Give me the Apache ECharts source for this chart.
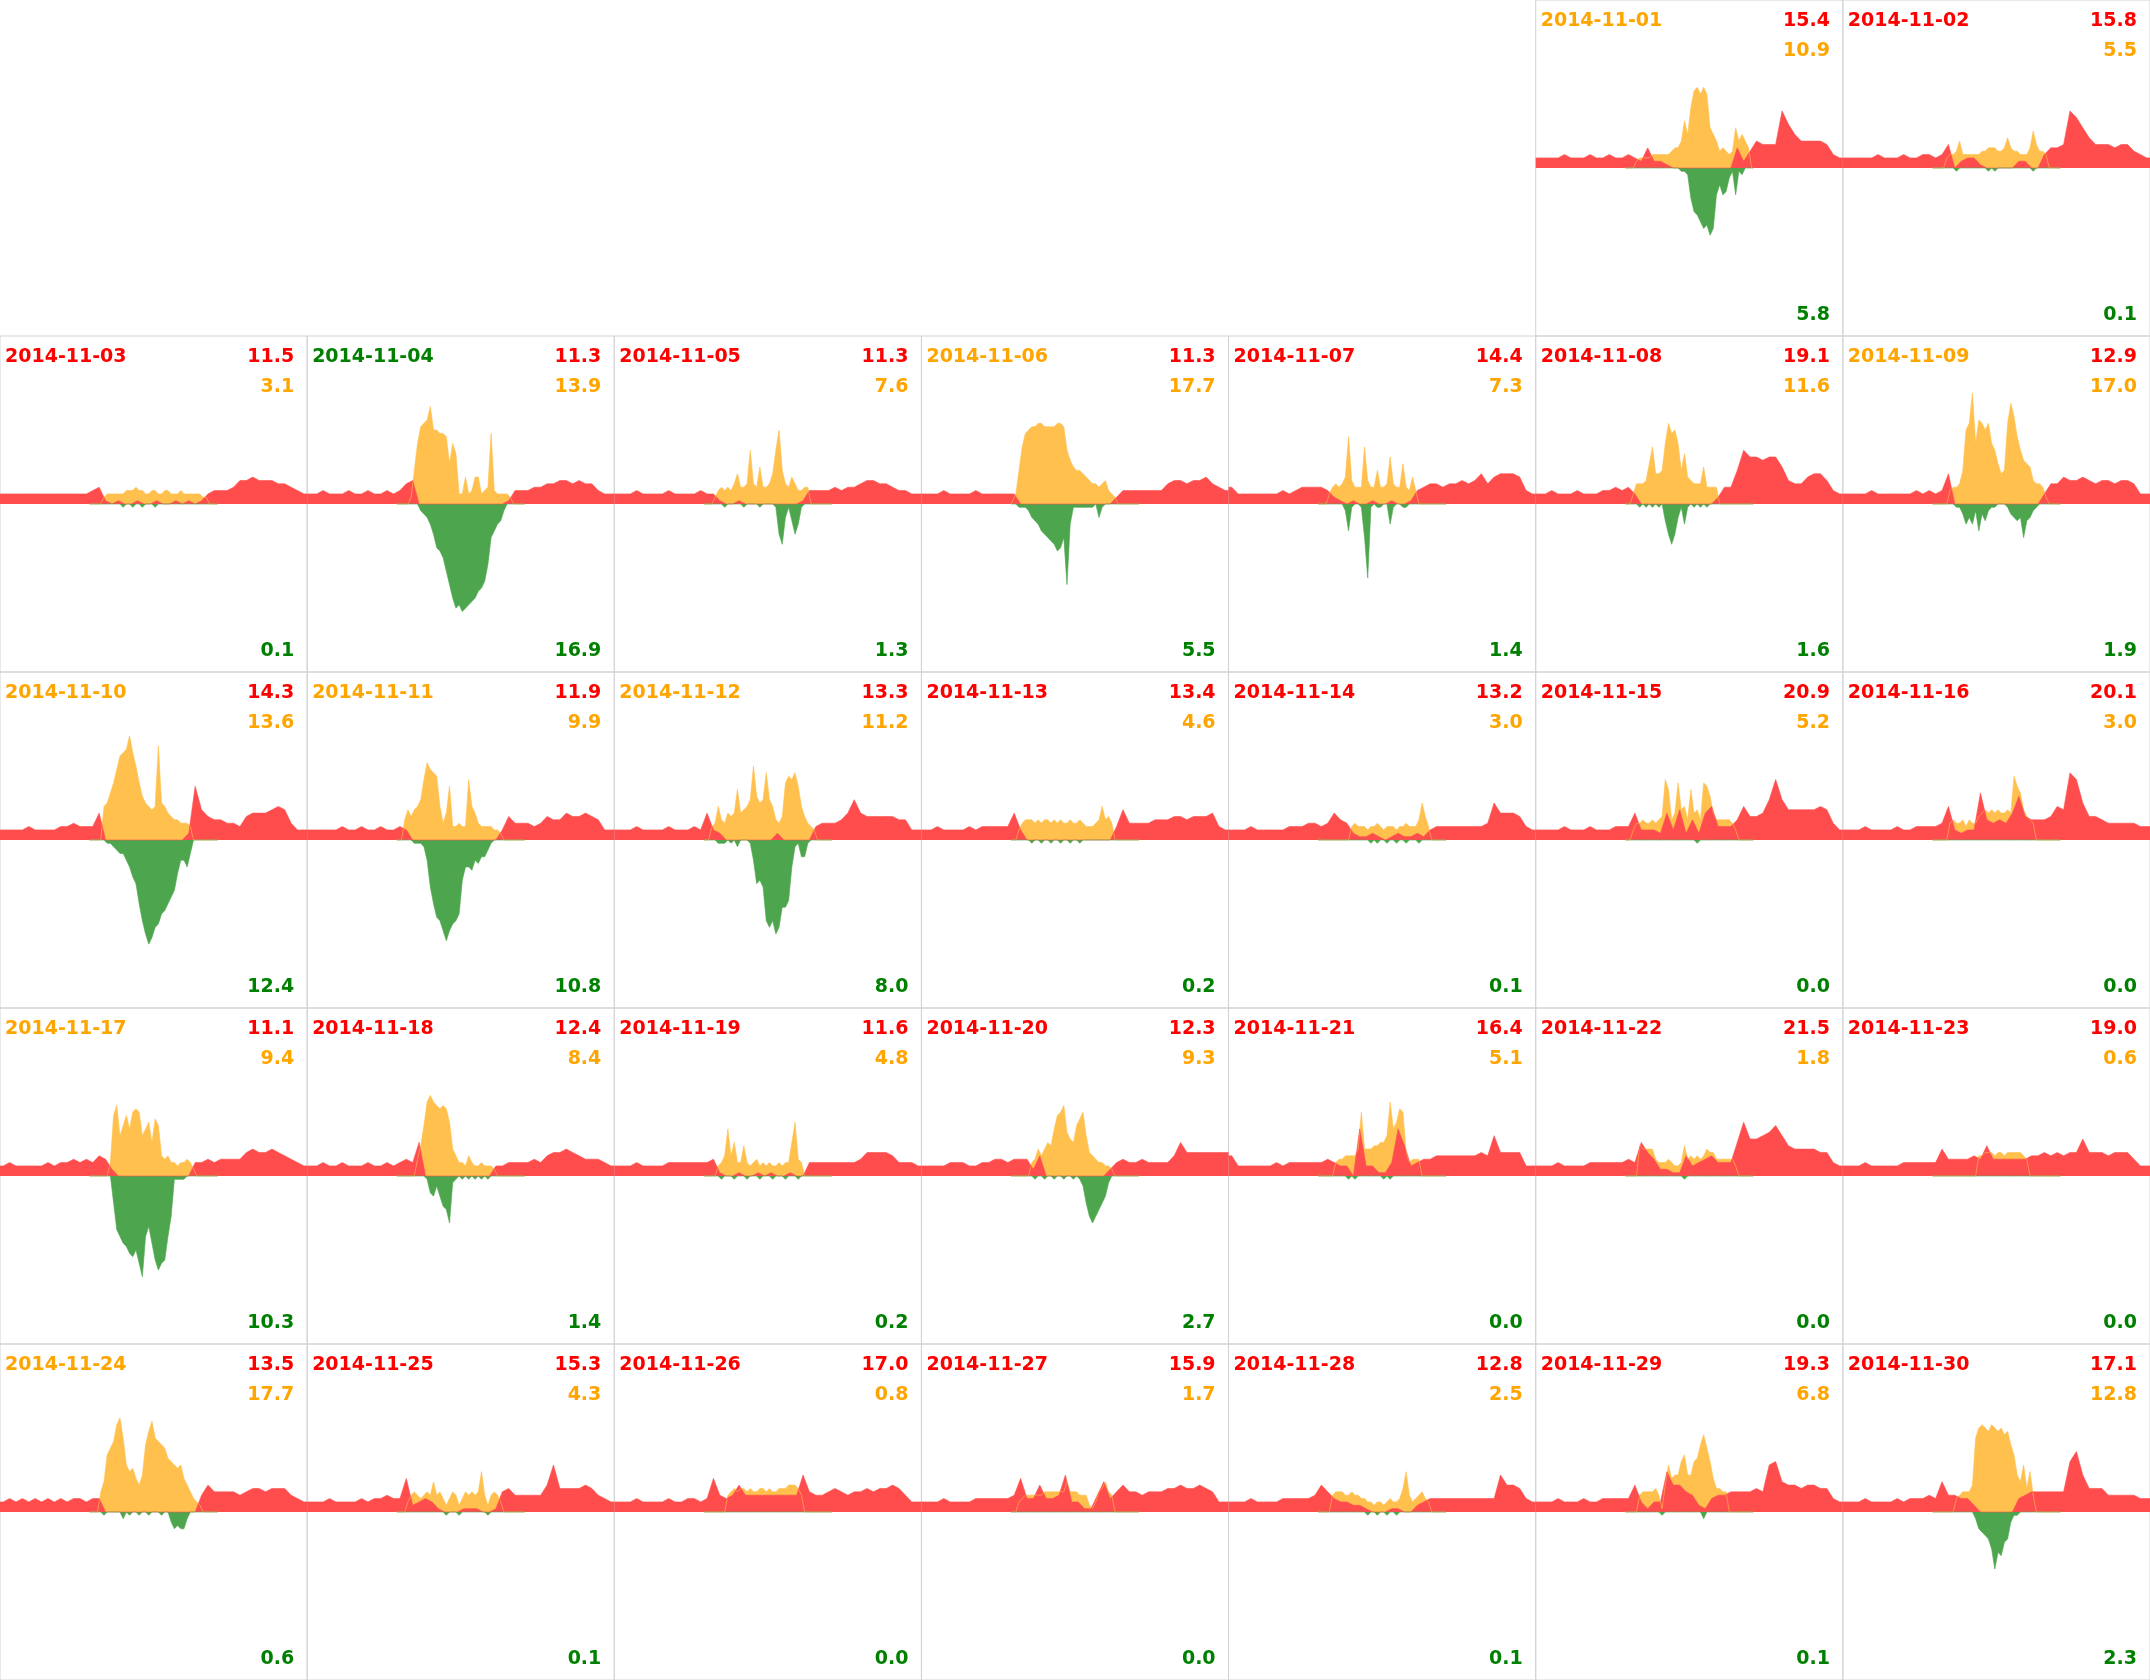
<!DOCTYPE html>
<html>
<head>
<meta charset="utf-8">
<script src="https://cdn.jsdelivr.net/npm/echarts/dist/echarts.min.js"></script>
<style>
html,body{margin:0;padding:0;background:#ffffff;}
#chart{width:2150px;height:1680px;}
</style>
</head>
<body>
<div id="chart"></div>
<script>
// ---------------- DATA (units: 0.1 kW) ----------------
const year = 2014, month = 11, firstWeekdayCol = 5; // Nov 1 2014 = Saturday (Mon-first week)
const dayNumbers = [1,2,3,4,5,6,7,8,9,10,11,12,13,14,15,16,17,18,19,20,21,22,23,24,25,26,27,28,29,30];

// daily totals (kWh) shown in each cell
const consumptionTotal = [15.4,15.8,11.5,11.3,11.3,11.3,14.4,19.1,12.9,14.3,11.9,13.3,13.4,13.2,20.9,20.1,11.1,12.4,11.6,12.3,16.4,21.5,19.0,13.5,15.3,17.0,15.9,12.8,19.3,17.1];
const productionTotal  = [10.9,5.5,3.1,13.9,7.6,17.7,7.3,11.6,17.0,13.6,9.9,11.2,4.6,3.0,5.2,3.0,9.4,8.4,4.8,9.3,5.1,1.8,0.6,17.7,4.3,0.8,1.7,2.5,6.8,12.8];
const exportTotal      = [5.8,0.1,0.1,16.9,1.3,5.5,1.4,1.6,1.9,12.4,10.8,8.0,0.2,0.1,0.0,0.0,10.3,1.4,0.2,2.7,0.0,0.0,0.0,0.6,0.1,0.0,0.0,0.1,0.1,2.3];
// which colour the date label takes: c = consumption, p = production, e = export
const dateLabelKind = ['p','c','c','e','c','p','c','c','p','p','p','p','c','c','c','c','p','c','c','c','c','c','c','p','c','c','c','c','c','c'];

// grid import (red), 48 half-hour slots 00:00-24:00
const gridImport = [
[3,3,3,3,4,3,3,3,4,3,3,4,3,3,4,3, 2,6,2,2,1,0,0,0,0,0,0,0,0,0,0,6, 2,5,8,7,7,7,17,13,10,8,8,8,8,7,4,3],
[3,3,3,3,3,4,3,3,3,4,3,3,4,4,3,4, 7,0,2,3,3,1,0,0,0,0,0,2,2,0,0,4, 6,6,7,17,15,12,9,7,7,7,6,7,7,5,4,3],
[3,3,3,3,3,3,3,3,3,3,3,3,3,3,4,5, 1,0,1,0,0,1,0,0,1,0,0,1,0,1,0,1, 3,4,4,4,5,7,7,8,7,7,7,6,6,5,4,3],
[3,3,4,3,3,3,4,3,3,4,3,3,4,3,4,6, 7,0,0,0,0,0,0,0,0,0,0,0,0,0,0,1, 4,4,4,5,5,6,6,7,7,6,7,6,6,4,3,3],
[3,3,3,4,3,3,3,3,4,3,3,3,3,4,3,3, 1,0,0,1,0,0,0,0,0,0,0,0,0,1,4,4, 4,4,5,4,5,5,6,7,7,6,6,5,4,4,3,3],
[3,3,3,4,3,3,3,3,4,3,3,3,3,3,3,0, 0,0,0,0,0,0,0,0,0,0,0,0,0,0,2,4, 4,4,4,4,4,4,6,7,7,6,7,7,8,6,5,4],
[5,3,3,3,3,3,3,3,4,3,4,5,5,5,5,4, 2,1,0,1,0,0,1,0,0,1,0,0,1,4,5,6, 6,5,6,6,7,6,7,9,6,8,9,9,9,8,4,3],
[3,3,4,3,3,3,4,3,3,3,4,4,5,4,5,3, 0,0,0,0,0,0,0,0,0,0,0,0,2,5,5,10, 16,14,14,13,14,14,11,7,6,6,8,9,9,7,4,3],
[3,3,3,3,4,3,3,3,3,3,3,4,3,4,3,4, 9,0,0,0,0,0,0,0,0,0,0,0,0,0,0,3, 6,6,8,7,7,8,7,6,7,7,6,7,7,6,3,3],
[3,3,3,3,4,3,3,3,3,4,4,5,4,4,4,8, 0,0,0,0,0,0,0,0,0,0,0,0,0,2,16,9, 7,6,6,5,5,4,7,8,8,8,9,10,9,5,3,3],
[3,3,3,3,3,4,3,3,4,3,3,4,3,3,4,3, 0,0,0,0,0,0,0,0,0,0,0,0,0,0,3,7, 5,5,5,4,5,7,6,6,8,7,7,8,7,6,3,3],
[3,3,3,4,3,3,3,3,4,3,3,3,4,3,8,3, 2,0,0,0,0,0,0,0,0,2,0,0,0,0,0,4, 5,5,5,6,8,12,8,7,7,7,7,7,6,6,3,3],
[3,3,4,3,3,3,3,4,3,4,4,4,4,4,8,3, 0,0,0,0,0,0,0,0,0,0,0,0,0,0,4,9, 5,5,5,5,6,6,6,7,7,6,7,7,7,8,4,3],
[3,3,3,4,3,3,3,3,3,4,4,4,5,5,4,5, 8,6,5,2,1,1,2,1,0,1,2,1,1,2,1,3, 4,4,4,4,4,4,4,4,5,11,8,8,8,7,4,3],
[3,3,3,3,4,3,3,3,4,3,3,3,4,4,4,8, 3,3,3,2,8,3,9,2,6,2,8,10,4,4,4,6, 10,7,7,8,12,18,12,9,9,9,9,9,10,9,5,3],
[3,3,3,4,3,3,3,3,4,3,3,4,4,4,4,5, 10,3,2,3,3,14,6,5,6,5,8,13,7,6,6,6, 7,10,9,20,18,11,7,7,6,5,5,5,5,5,4,4],
[3,4,3,3,3,3,3,4,3,4,4,5,4,5,4,6, 5,2,0,0,0,0,0,0,0,0,0,0,0,0,4,4, 5,4,5,5,5,5,7,8,7,7,8,7,6,5,4,3],
[3,3,4,3,3,4,3,3,3,4,3,3,4,3,4,5, 4,10,0,0,0,0,0,0,0,0,0,0,0,3,3,4, 4,4,4,5,4,6,7,7,8,7,6,5,5,5,4,3],
[3,3,3,4,3,3,3,3,4,4,4,4,4,4,4,5, 1,0,0,1,0,0,1,0,1,0,0,1,0,0,4,4, 4,4,4,4,4,4,5,7,7,7,7,6,4,4,4,3],
[3,3,3,3,4,4,4,3,3,4,4,5,5,4,5,5, 5,2,6,0,0,0,0,0,0,0,0,0,0,2,4,5, 4,4,5,4,4,4,4,6,10,7,7,7,7,7,7,7],
[6,3,3,3,3,3,3,4,3,4,4,4,4,4,4,5, 4,3,3,0,14,3,3,1,1,4,14,9,3,4,5,5, 6,6,6,6,6,6,6,7,6,12,7,7,7,7,3,3],
[3,3,3,4,3,3,3,3,4,4,4,4,4,4,5,4, 10,7,5,2,2,1,1,6,3,4,5,6,4,4,4,10, 16,11,11,12,13,15,12,9,8,8,8,8,7,7,4,3],
[3,3,3,4,3,3,3,3,3,4,4,4,4,4,4,8, 5,5,5,5,6,5,9,5,5,5,5,5,5,6,6,7, 6,7,6,7,7,11,7,7,7,6,7,7,7,5,3,3],
[3,4,3,4,3,4,3,4,3,4,3,4,4,3,4,4, 0,0,0,0,0,0,0,0,0,0,0,0,0,0,0,5, 8,6,6,6,6,5,6,7,7,6,7,7,7,5,4,3],
[3,3,3,4,3,3,3,3,4,3,4,4,5,4,4,10, 2,3,4,3,1,0,0,0,1,1,1,0,0,1,6,7, 5,5,5,5,5,8,14,7,7,7,7,8,7,5,4,3],
[3,3,3,4,3,3,3,3,4,3,3,4,4,3,4,10, 5,4,5,8,5,5,5,5,5,5,5,5,5,11,6,5, 5,6,7,6,5,6,6,7,6,7,7,8,7,5,3,3],
[3,3,3,4,3,3,3,3,4,4,4,4,4,4,5,10, 4,4,8,4,4,5,11,3,3,1,1,5,9,4,6,8, 6,6,5,6,6,6,7,7,8,7,7,8,7,6,3,3],
[3,3,3,4,3,3,3,3,4,4,4,4,4,5,8,6, 4,3,3,2,2,1,0,0,0,1,1,0,0,2,3,4, 4,4,4,4,4,4,4,4,4,4,11,8,8,7,4,3],
[3,3,3,4,3,3,3,4,3,3,4,4,4,4,4,8, 3,1,3,3,12,8,8,6,5,2,1,4,5,5,6,6, 6,6,7,6,14,15,9,8,8,7,8,8,7,7,4,3],
[3,3,3,4,3,3,3,3,4,3,4,4,4,5,4,9, 5,5,4,4,2,0,0,0,0,0,0,4,5,6,6,6, 6,6,6,15,18,11,7,7,7,5,5,5,5,5,4,4]
];

// household load incl. own solar (top of orange), 40 quarter-hour slots 07:00-17:00
const householdLoad = [
[0,0,0,2,3,3,3,3,4,4,4,4,4,4,5,6,6,8,14,10,18,23,24,22,24,22,12,10,8,5,6,5,4,5,12,8,10,8,6,0],
[0,0,0,0,3,4,4,5,8,4,4,4,4,4,4,5,5,6,6,6,5,5,6,9,6,5,5,4,4,4,6,11,7,5,5,4,0,0,0,0],
[0,0,0,0,2,3,3,3,3,3,3,4,4,4,5,4,4,3,3,4,4,3,3,4,4,3,3,3,4,3,3,3,3,3,3,2,2,0,0,0],
[0,0,0,0,2,10,18,23,24,25,29,22,22,21,21,20,12,18,15,3,3,8,3,4,8,8,3,4,5,21,4,3,3,3,3,2,0,0,0,0],
[0,0,0,2,4,5,4,5,4,6,9,5,5,6,16,6,5,11,5,5,6,9,16,22,10,6,5,8,6,4,4,5,5,0,0,0,0,0,0,0],
[0,3,10,17,21,22,23,23,24,24,23,23,23,23,24,24,23,16,13,11,10,10,9,8,7,6,6,5,6,7,4,3,2,0,0,0,0,0,0,0],
[0,0,0,3,5,6,5,6,8,20,7,5,5,5,17,7,5,5,10,5,5,6,14,6,5,5,12,5,4,8,4,0,0,0,0,0,0,0,0,0],
[0,0,3,6,6,6,7,12,17,9,9,10,18,24,21,22,18,10,15,8,7,6,6,6,11,5,5,5,5,0,0,0,0,0,0,0,0,0,0,0],
[0,0,0,0,0,4,5,5,6,10,22,24,33,18,25,24,22,24,18,16,12,9,10,24,30,26,20,16,13,12,11,7,6,6,5,2,0,0,0,0],
[0,0,0,0,10,11,14,17,21,25,26,27,31,26,22,17,13,11,10,9,10,28,11,10,8,7,6,6,5,5,5,4,0,0,0,0,0,0,0,0],
[0,0,6,9,7,9,10,12,18,23,21,20,19,10,5,8,16,4,4,5,4,4,18,10,8,5,4,4,4,4,3,3,2,0,0,0,0,0,0,0],
[0,0,4,5,10,6,5,8,7,8,15,8,9,10,12,22,13,11,12,20,12,10,6,5,7,17,19,18,20,16,10,7,5,4,3,0,0,0,0,0],
[0,0,3,5,6,6,6,5,6,5,6,6,5,6,5,6,5,5,6,5,5,6,5,4,4,4,5,6,10,6,7,5,0,0,0,0,0,0,0,0],
[0,0,0,0,0,0,0,0,0,0,4,5,4,4,4,3,4,4,5,4,3,4,4,4,3,4,4,5,4,4,4,6,11,7,4,0,0,0,0,0],
[0,0,3,5,5,6,5,5,6,5,6,7,18,15,6,8,17,9,10,6,15,8,9,6,17,16,13,8,6,6,6,6,6,5,3,0,0,0,0,0],
[0,0,0,0,0,5,6,5,5,6,4,6,5,5,7,8,9,8,9,8,9,8,8,9,8,19,16,14,9,7,6,5,0,0,0,0,0,0,0,0],
[0,0,0,0,0,0,4,18,21,12,15,18,14,19,20,19,12,14,16,10,17,15,6,5,6,4,4,3,4,4,5,4,2,0,0,0,0,0,0,0],
[0,0,0,0,0,0,5,9,15,22,24,22,21,20,21,20,16,8,6,4,4,3,6,4,3,3,4,3,3,3,2,0,0,0,0,0,0,0,0,0],
[0,0,0,0,3,4,6,14,6,10,4,4,9,4,3,4,5,3,4,3,4,3,3,4,3,4,4,10,16,5,4,0,0,0,0,0,0,0,0,0],
[0,0,0,0,0,0,4,5,8,6,8,10,9,14,18,19,21,13,11,10,15,17,19,12,7,6,5,4,4,3,3,2,0,0,0,0,0,0,0,0],
[0,0,0,0,0,4,5,5,6,6,6,6,8,19,8,8,8,9,9,10,10,12,22,14,16,20,19,7,4,5,5,5,0,0,0,0,0,0,0,0],
[0,0,0,0,9,8,8,8,8,5,4,4,4,5,4,3,3,4,9,5,6,5,6,5,6,8,7,7,5,5,5,5,5,5,3,0,0,0,0,0],
[0,0,0,0,0,0,0,0,0,0,0,0,0,0,6,6,7,7,7,6,7,7,6,7,7,7,7,7,6,5,0,0,0,0,0,0,0,0,0,0],
[0,0,0,6,9,17,19,21,26,28,22,14,12,13,10,8,11,20,24,27,22,21,20,19,16,15,14,13,14,10,8,6,4,3,2,0,0,0,0,0],
[0,0,0,3,5,6,5,4,5,6,5,9,5,6,4,2,4,6,5,2,4,6,5,6,5,6,12,5,2,5,6,5,3,0,0,0,0,0,0,0],
[0,0,0,0,0,0,0,5,6,7,6,7,7,6,7,6,6,7,7,6,7,6,6,7,7,7,8,8,8,7,5,0,0,0,0,0,0,0,0,0],
[0,0,3,4,5,5,5,5,5,5,6,6,6,6,6,6,6,9,6,6,6,5,5,5,2,1,3,6,7,9,6,5,0,0,0,0,0,0,0,0],
[0,0,0,0,5,6,6,6,5,5,6,5,5,4,4,3,3,2,3,3,2,3,4,3,3,4,7,12,5,3,4,5,6,4,3,0,0,0,0,0],
[0,0,0,0,5,6,6,6,6,7,5,1,8,14,10,11,11,15,17,11,11,15,16,20,23,19,15,10,7,7,6,6,0,0,0,0,0,0,0,0],
[0,0,0,0,0,0,0,4,5,6,6,6,8,22,25,26,25,24,26,25,24,25,23,24,20,17,11,9,14,7,12,5,0,0,0,0,0,0,0,0]
];

// grid export (green, negative), 40 quarter-hour slots 07:00-17:00
const gridExport = [
[0,0,0,0,0,0,0,0,0,0,0,0,0,0,0,0,0,-1,-1,-2,-9,-13,-14,-16,-18,-17,-20,-18,-8,-5,-8,-7,-3,-1,-8,-1,-2,0,0,0],
[0,0,0,0,0,0,0,-1,0,0,0,0,0,0,0,0,0,-1,0,-1,0,0,0,0,0,0,0,0,0,0,0,-1,0,0,0,0,0,0,0,0],
[0,0,0,0,0,0,0,0,0,0,-1,0,0,-1,0,0,-1,0,0,0,-1,0,0,0,0,0,0,0,0,0,0,0,0,0,0,0,0,0,0,0],
[0,0,0,0,0,0,0,-2,-3,-4,-6,-9,-13,-14,-16,-20,-24,-28,-31,-30,-32,-31,-30,-29,-28,-26,-25,-23,-18,-10,-8,-6,-5,-2,0,0,0,0,0,0],
[0,0,0,0,0,0,-1,0,0,0,0,0,-1,0,0,0,0,-1,0,0,0,0,-1,-9,-12,-4,-1,-5,-9,-6,-1,0,0,0,0,0,0,0,0,0],
[0,0,-1,-1,-1,-2,-4,-5,-6,-8,-9,-10,-11,-12,-14,-13,-10,-24,-6,-1,-1,-1,-1,-1,-1,-1,0,-4,-1,0,0,0,0,0,0,0,0,0,0,0],
[0,0,0,0,0,0,0,0,-2,-8,-1,0,0,-1,-10,-22,-1,0,-1,-1,0,0,-6,-1,0,0,-1,-1,0,0,0,0,0,0,0,0,0,0,0,0],
[0,0,0,0,-1,0,-1,0,-1,0,-1,0,-5,-9,-12,-9,-4,-1,-6,-1,0,-1,0,-1,0,-1,0,0,0,0,0,0,0,0,0,0,0,0,0,0],
[0,0,0,0,0,0,0,-1,-1,-3,-6,-4,-6,-2,-8,-3,-5,-2,-1,-1,0,0,0,-1,-3,-4,-5,-4,-10,-5,-4,-2,-1,0,0,0,0,0,0,0],
[0,0,0,0,0,-1,-1,-2,-3,-4,-4,-6,-8,-11,-13,-19,-24,-28,-31,-29,-26,-25,-22,-21,-19,-17,-15,-10,-6,-6,-8,-4,0,0,0,0,0,0,0,0],
[0,0,0,0,0,-1,-1,-1,-2,-6,-14,-19,-23,-24,-27,-30,-27,-25,-24,-22,-12,-8,-8,-9,-6,-7,-5,-5,-3,-1,0,0,0,0,0,0,0,0,0,0],
[0,0,0,0,-1,-1,-1,0,-1,0,-2,0,0,0,-1,-6,-13,-12,-14,-24,-26,-24,-28,-26,-20,-20,-18,-8,-2,-1,-5,-5,-1,0,0,0,0,0,0,0],
[0,0,0,0,0,0,-1,0,0,-1,0,0,-1,0,0,-1,0,0,-1,0,0,-1,0,0,0,0,0,0,0,0,0,0,0,0,0,0,0,0,0,0],
[0,0,0,0,0,0,0,0,0,0,0,0,0,0,0,0,-1,0,-1,0,0,-1,0,0,-1,0,0,-1,0,0,0,-1,0,0,0,0,0,0,0,0],
[0,0,0,0,0,0,0,0,0,0,0,0,0,0,0,0,0,0,0,0,0,0,-1,0,0,0,0,0,0,0,0,0,0,0,0,0,0,0,0,0],
[0,0,0,0,0,0,0,0,0,0,0,0,0,0,0,0,0,0,0,0,0,0,0,0,0,0,0,0,0,0,0,0,0,0,0,0,0,0,0,0],
[0,0,0,0,0,0,0,-8,-16,-18,-20,-21,-23,-24,-22,-26,-30,-18,-15,-20,-25,-28,-26,-25,-18,-12,-1,-1,-1,-1,0,0,0,0,0,0,0,0,0,0],
[0,0,0,0,0,0,0,0,0,-1,-5,-6,-3,-6,-9,-10,-14,-2,-1,0,-1,0,-1,0,-1,0,-1,0,-1,0,0,0,0,0,0,0,0,0,0,0],
[0,0,0,0,0,-1,0,0,0,-1,0,0,0,-1,0,0,0,-1,0,0,0,-1,0,0,0,-1,0,0,0,-1,0,0,0,0,0,0,0,0,0,0],
[0,0,0,0,0,0,0,-1,0,0,-1,0,0,-1,0,0,-1,0,0,-1,0,-1,-3,-8,-12,-14,-12,-10,-8,-6,-2,0,0,0,0,0,0,0,0,0],
[0,0,0,0,0,0,0,0,0,-1,0,-1,0,0,0,0,0,0,0,0,-1,0,-1,0,0,0,0,0,0,0,0,0,0,0,0,0,0,0,0,0],
[0,0,0,0,0,0,0,0,0,0,0,0,0,0,0,0,0,0,-1,0,0,0,0,0,0,0,0,0,0,0,0,0,0,0,0,0,0,0,0,0],
[0,0,0,0,0,0,0,0,0,0,0,0,0,0,0,0,0,0,0,0,0,0,0,0,0,0,0,0,0,0,0,0,0,0,0,0,0,0,0,0],
[0,0,0,0,-1,0,0,0,0,0,-2,0,-1,0,0,-1,0,0,-1,0,0,0,-1,0,0,-3,-5,-4,-5,-5,-2,0,0,0,0,0,0,0,0,0],
[0,0,0,0,0,0,0,0,0,0,0,0,0,0,0,-1,0,0,0,-1,0,0,0,0,0,0,0,0,-1,0,0,0,0,0,0,0,0,0,0,0],
[0,0,0,0,0,0,0,0,0,0,0,0,0,0,0,0,0,0,0,0,0,0,0,0,0,0,0,0,0,0,0,0,0,0,0,0,0,0,0,0],
[0,0,0,0,0,0,0,0,0,0,0,0,0,0,0,0,0,0,0,0,0,0,0,0,0,0,0,0,0,0,0,0,0,0,0,0,0,0,0,0],
[0,0,0,0,0,0,0,0,0,0,0,0,0,0,0,-1,0,0,-1,0,0,-1,0,0,-1,0,0,0,0,0,0,0,0,0,0,0,0,0,0,0],
[0,0,0,0,0,0,0,0,0,0,0,-1,0,0,0,0,0,0,0,0,0,0,0,0,-2,0,0,0,0,0,0,0,0,0,0,0,0,0,0,0],
[0,0,0,0,0,0,0,0,0,0,0,0,0,-2,-5,-6,-7,-8,-11,-17,-12,-13,-9,-8,-3,-1,-1,0,0,0,0,0,0,0,0,0,0,0,0,0]
];

// time layout of the arrays
const importSlotHours = 0.5;           // gridImport: half-hour slots from 00:00
const solarFirstHour = 7, solarSlotHours = 0.25; // householdLoad / gridExport
const yLimit = 50;                     // ±5 kW in 0.1 kW units

// ---------------- STYLE ----------------
const COLORS = { c: '#ff0000', p: '#ffa500', e: '#008000' };
const FILL_RED = '#ff4d4d', FILL_ORANGE = '#ffc04d', FILL_GREEN = '#4da64d';
const FONT = 'bold 19px "DejaVu Sans"';

// ---------------- BUILD ----------------
function importPoints(a) {
  const pts = [[0, a[0]]];
  a.forEach((v, i) => pts.push([(i + 0.5) * importSlotHours, v]));
  pts.push([a.length * importSlotHours, a[a.length - 1]]);
  return pts;
}
function solarPoints(a) {
  const pts = [[solarFirstHour, 0]];
  a.forEach((v, i) => pts.push([solarFirstHour + (i + 0.5) * solarSlotHours, v]));
  pts.push([solarFirstHour + a.length * solarSlotHours, 0]);
  return pts;
}

const chart = echarts.init(document.getElementById('chart'), null, { renderer: 'canvas' });
const totalW = 2150, totalH = 1680;
const cellW = totalW / 7, cellH = totalH / 5;
const grids = [], xAxes = [], yAxes = [], series = [], graphics = [];

dayNumbers.forEach((d, i) => {
  const pos = i + firstWeekdayCol;
  const col = pos % 7, row = Math.floor(pos / 7);
  const left = col * cellW, top = row * cellH;
  grids.push({ left: left, top: top, width: cellW, height: cellH, show: true,
    borderColor: '#d3d3d3', borderWidth: 1, backgroundColor: 'transparent',
    containLabel: false, outerBoundsMode: 'none' });
  xAxes.push({ gridIndex: i, type: 'value', min: 0, max: 24, show: false });
  yAxes.push({ gridIndex: i, type: 'value', min: -yLimit, max: yLimit, show: false });

  const common = { type: 'line', xAxisIndex: i, yAxisIndex: i, symbol: 'none', showSymbol: false,
    silent: true, animation: false, smooth: false };
  series.push(Object.assign({}, common, { data: solarPoints(householdLoad[i]),
    lineStyle: { width: 0.6, color: FILL_ORANGE }, areaStyle: { color: FILL_ORANGE, opacity: 1 } }));
  series.push(Object.assign({}, common, { data: importPoints(gridImport[i]),
    lineStyle: { width: 0.6, color: FILL_RED }, areaStyle: { color: FILL_RED, opacity: 1 } }));
  series.push(Object.assign({}, common, { data: solarPoints(gridExport[i]),
    lineStyle: { width: 0.6, color: FILL_GREEN }, areaStyle: { color: FILL_GREEN, opacity: 1 } }));

  const dateText = year + '-' + String(month).padStart(2, '0') + '-' + String(d).padStart(2, '0');
  const rightX = left + cellW - 13;
  graphics.push({ type: 'text', x: left + 5, y: top + 21, z: 100,
    style: { text: dateText, fill: COLORS[dateLabelKind[i]], font: FONT, align: 'left', verticalAlign: 'middle' } });
  graphics.push({ type: 'text', x: rightX, y: top + 21, z: 100,
    style: { text: consumptionTotal[i].toFixed(1), fill: COLORS.c, font: FONT, align: 'right', verticalAlign: 'middle' } });
  graphics.push({ type: 'text', x: rightX, y: top + 51, z: 100,
    style: { text: productionTotal[i].toFixed(1), fill: COLORS.p, font: FONT, align: 'right', verticalAlign: 'middle' } });
  graphics.push({ type: 'text', x: rightX, y: top + 315, z: 100,
    style: { text: exportTotal[i].toFixed(1), fill: COLORS.e, font: FONT, align: 'right', verticalAlign: 'middle' } });
});

chart.setOption({
  animation: false,
  backgroundColor: '#ffffff',
  grid: grids,
  xAxis: xAxes,
  yAxis: yAxes,
  series: series,
  graphic: graphics
});
</script>
</body>
</html>
